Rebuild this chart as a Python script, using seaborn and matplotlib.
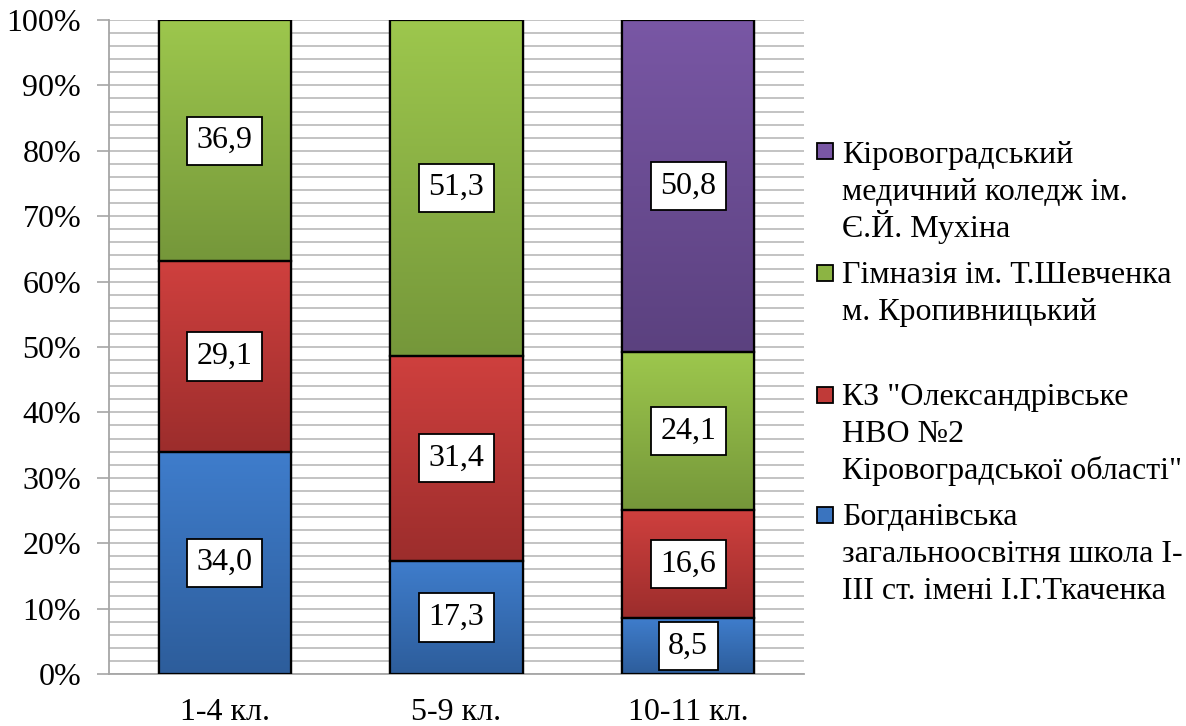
import numpy as np
import pandas as pd
import matplotlib
matplotlib.use("Agg")
import matplotlib.pyplot as plt
import seaborn as sns
from matplotlib.colors import LinearSegmentedColormap
from matplotlib.patches import Rectangle

# Categories (grades) and the share of pupils by institution, %
grades = ["1-4 кл.", "5-9 кл.", "10-11 кл."]
bohdanivska = [34.0, 17.3, 8.5]
kz_oleksandrivske = [29.1, 31.4, 16.6]
gymnasium = [36.9, 51.3, 24.1]
med_college = [0.0, 0.0, 50.8]

series_names = [
    "Богданівська загальноосвітня школа І-ІІІ ст. імені І.Г.Ткаченка",
    "КЗ \"Олександрівське НВО №2 Кіровоградської області\"",
    "Гімназія ім. Т.Шевченка м. Кропивницький",
    "Кіровоградський медичний коледж ім. Є.Й. Мухіна",
]
series_values = [bohdanivska, kz_oleksandrivske, gymnasium, med_college]
ytick_labels = ["0%", "10%", "20%", "30%", "40%", "50%", "60%", "70%", "80%", "90%", "100%"]

# Legend text, laid out line by line (top entry first)
legend_lines = [
    ["Кіровоградський", "медичний коледж ім.", "Є.Й. Мухіна"],
    ["Гімназія ім. Т.Шевченка", "м. Кропивницький"],
    ["КЗ \"Олександрівське", "НВО №2", "Кіровоградської області\""],
    ["Богданівська", "загальноосвітня школа І-", "ІІІ ст. імені І.Г.Ткаченка"],
]

# Light-to-dark fills for each series (top, bottom)
gradients = [
    ("#3f7dcc", "#2d5d9b"),
    ("#cf403e", "#9c2d2c"),
    ("#9dc74d", "#75973a"),
    ("#7957a5", "#5b417f"),
]
legend_colors = ["#7957a5", "#8cb443", "#c03a38", "#3a74bf"]

sns.set_theme(style="white")
plt.rcParams["font.family"] = ["Liberation Serif", "DejaVu Serif"]
plt.rcParams["text.color"] = "black"
plt.rcParams["xtick.color"] = "black"
plt.rcParams["ytick.color"] = "black"

FS = 23
W, H, DPI = 1186, 726, 100
fig = plt.figure(figsize=(W / DPI, H / DPI), dpi=DPI)
ax = fig.add_axes([109 / W, 1 - 674 / H, 695 / W, 654 / H])

bottom = np.zeros(len(grades))
segments = []
for name, vals, (c_top, c_bot) in zip(series_names, series_values, gradients):
    df = pd.DataFrame({"grade": grades, "value": vals})
    n_before = len(ax.patches)
    sns.barplot(data=df, x="grade", y="value", order=grades, bottom=bottom,
                color=c_top, width=0.57, edgecolor="black", linewidth=1.6,
                saturation=1, ax=ax, zorder=3, err_kws={"linewidth": 0})
    new = ax.patches[n_before:]
    for p, v in zip(new, vals):
        segments.append((p, v, c_top, c_bot))
    bottom = bottom + np.array(vals)

ax.set_xlim(-0.5, 2.5)
ax.set_ylim(0, 100)

# Vertical gradient inside every bar segment
grad = np.linspace(0, 1, 256).reshape(-1, 1)
for p, v, c_top, c_bot in segments:
    if v <= 0:
        continue
    x0, y0 = p.get_x(), p.get_y()
    w, h = p.get_width(), p.get_height()
    cmap = LinearSegmentedColormap.from_list("g", [c_bot, c_top])
    im = ax.imshow(grad, cmap=cmap, aspect="auto", origin="lower",
                   extent=(x0, x0 + w, y0, y0 + h), zorder=3.5,
                   interpolation="bilinear")
    im.set_clip_path(p)
    edge = Rectangle((x0, y0), w, h, fill=False, edgecolor="black",
                     linewidth=1.6, zorder=4)
    ax.add_patch(edge)
    # Value label in a white box at the centre of the segment
    ax.text(x0 + w / 2, y0 + h / 2, f"{v:.1f}".replace(".", ","),
            ha="center", va="center", fontsize=FS, zorder=6, color="black",
            bbox=dict(boxstyle="square,pad=0.3", facecolor="white",
                      edgecolor="black", linewidth=1.3))
ax.set_xlim(-0.5, 2.5)
ax.set_ylim(0, 100)

# Grid: major every 10 %, minor every 2 %
ax.set_yticks(np.arange(0, 101, 10))
ax.set_yticklabels(ytick_labels)
ax.set_yticks(np.arange(0, 101, 2), minor=True)
ax.grid(True, axis="y", which="both", color="#c3c3c3", linewidth=1.4, zorder=0)
ax.set_axisbelow(True)
ax.tick_params(axis="y", which="major", length=9, width=1.2, color="#a6a6a6",
               direction="out", pad=11, labelsize=FS, left=True,
               labelcolor="black")
ax.tick_params(axis="y", which="minor", length=0)
ax.tick_params(axis="x", length=0, pad=17, labelsize=FS, labelcolor="black")
ax.set_xlabel("")
ax.set_ylabel("")
for side in ["top", "right"]:
    ax.spines[side].set_visible(False)
for side in ["left", "bottom"]:
    ax.spines[side].set_color("#a6a6a6")
    ax.spines[side].set_linewidth(1.3)

# Legend on the right
marker_tops = [143, 265, 387, 507]
first_baselines = [163, 283, 405, 525]
line_step = 36.8
for lines, color, mt, bl in zip(legend_lines, legend_colors, marker_tops, first_baselines):
    fig.patches.append(Rectangle((817 / W, 1 - (mt + 16) / H), 16 / W, 16 / H,
                                 transform=fig.transFigure, facecolor=color,
                                 edgecolor="black", linewidth=1.3))
    for i, line in enumerate(lines):
        fig.text(842 / W, 1 - (bl + i * line_step) / H, line, fontsize=FS,
                 ha="left", va="baseline", color="black")

fig.savefig("out.png", dpi=DPI)
